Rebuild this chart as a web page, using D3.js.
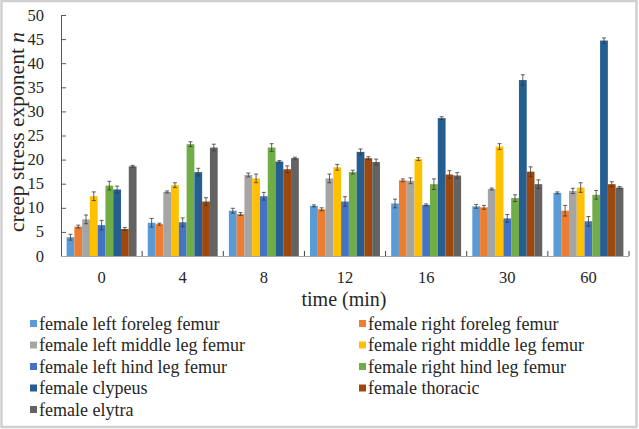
<!DOCTYPE html>
<html>
<head>
<meta charset="UTF-8">
<title>creep stress exponent</title>
<style>
  body { margin: 0; background: #fff; }
  text { font-family: "Liberation Serif", "DejaVu Serif", serif; fill: #262626; }
</style>
</head>
<body>
<svg id="chart" width="639" height="429"></svg>
<script src="https://d3js.org/d3.v7.min.js"></script>
<script>
// categories (time in minutes)
const times = ["0", "4", "8", "12", "16", "30", "60"];

const seriesNames = [
  "female left foreleg femur",
  "female right foreleg femur",
  "female left middle leg femur",
  "female right middle leg femur",
  "female left hind leg femur",
  "female right hind leg femur",
  "female clypeus",
  "female thoracic",
  "female elytra"
];

const seriesColors = ["#5b9bd5", "#ed7d31", "#a5a5a5", "#ffc000", "#4472c4",
                      "#70ad47", "#255e91", "#9e480e", "#636363"];

// mean values, one array per series (index = time)
const leftForeleg   = [3.9, 6.9, 9.4, 10.4, 10.9, 10.3, 13.1];
const rightForeleg  = [6.1, 6.6, 8.7, 9.7, 15.7, 10.1, 9.4];
const leftMiddle    = [7.6, 13.3, 16.8, 16.1, 15.6, 13.9, 13.5];
const rightMiddle   = [12.4, 14.7, 16.1, 18.4, 20.1, 22.7, 14.2];
const leftHind      = [6.4, 7.0, 12.4, 11.3, 10.6, 7.8, 7.2];
const rightHind     = [14.6, 23.2, 22.5, 17.4, 14.9, 12.0, 12.7];
const clypeus       = [13.8, 17.4, 19.6, 21.6, 28.6, 36.5, 44.7];
const thoracic      = [5.6, 11.3, 18.0, 20.3, 16.9, 17.5, 14.9];
const elytra        = [18.6, 22.5, 20.3, 19.5, 16.7, 14.9, 14.2];

// error bars (+/-)
const errLeftForeleg  = [0.6, 0.9, 0.5, 0.2, 0.9, 0.4, 0.2];
const errRightForeleg = [0.3, 0.2, 0.3, 0.3, 0.3, 0.4, 1.1];
const errLeftMiddle   = [0.9, 0.2, 0.4, 0.9, 0.6, 0.2, 0.55];
const errRightMiddle  = [0.9, 0.5, 0.9, 0.6, 0.3, 0.6, 1.0];
const errLeftHind     = [1.0, 0.9, 0.8, 1.0, 0.2, 0.8, 1.0];
const errRightHind    = [0.9, 0.5, 0.8, 0.4, 1.1, 0.7, 0.9];
const errClypeus      = [0.7, 0.8, 0.2, 0.6, 0.3, 1.1, 0.55];
const errThoracic     = [0.3, 0.8, 0.7, 0.3, 0.8, 1.0, 0.5];
const errElytra       = [0.2, 0.7, 0.2, 0.6, 0.6, 0.9, 0.2];

const yTicks = [0, 5, 10, 15, 20, 25, 30, 35, 40, 45, 50];

const values = [leftForeleg, rightForeleg, leftMiddle, rightMiddle, leftHind,
                rightHind, clypeus, thoracic, elytra];
const errors = [errLeftForeleg, errRightForeleg, errLeftMiddle, errRightMiddle,
                errLeftHind, errRightHind, errClypeus, errThoracic, errElytra];

const svg = d3.select("#chart");

// outer frame
svg.append("rect")
  .attr("x", 1.5).attr("y", 1)
  .attr("width", 635).attr("height", 426)
  .attr("fill", "none")
  .attr("stroke", "#cfcfcf")
  .attr("stroke-width", 2.5);

const plotLeft = 61, plotRight = 629, plotTop = 15, plotBottom = 256;

const x0 = d3.scaleBand().domain(times).range([plotLeft, plotRight]);
const x1 = d3.scaleBand().domain(d3.range(seriesNames.length))
  .range([0, x0.bandwidth()])
  .paddingOuter(0.72);
const y = d3.scaleLinear().domain([0, 50]).range([plotBottom, plotTop]);

// build table of bars
const bars = [];
times.forEach((t, i) => {
  values.forEach((arr, s) => {
    bars.push({ t: t, s: s, v: arr[i], e: errors[s][i] });
  });
});

const g = svg.append("g");

g.selectAll("rect.bar")
  .data(bars)
  .enter().append("rect")
  .attr("class", "bar")
  .attr("x", d => x0(d.t) + x1(d.s))
  .attr("y", d => y(d.v))
  .attr("width", x1.bandwidth())
  .attr("height", d => y(0) - y(d.v))
  .attr("fill", d => seriesColors[d.s]);

// error bars
const eb = g.selectAll("g.err")
  .data(bars)
  .enter().append("g")
  .attr("class", "err")
  .attr("stroke", "#3a3a3a")
  .attr("stroke-width", 0.8);

const cx = d => x0(d.t) + x1(d.s) + x1.bandwidth() / 2;

eb.append("line")
  .attr("x1", cx).attr("x2", cx)
  .attr("y1", d => y(d.v - d.e)).attr("y2", d => y(d.v + d.e));
eb.append("line")
  .attr("x1", d => cx(d) - 2).attr("x2", d => cx(d) + 2)
  .attr("y1", d => y(d.v + d.e)).attr("y2", d => y(d.v + d.e));
eb.append("line")
  .attr("x1", d => cx(d) - 2).attr("x2", d => cx(d) + 2)
  .attr("y1", d => y(d.v - d.e)).attr("y2", d => y(d.v - d.e));

// y axis (ticks pointing inside)
const yAxis = svg.append("g")
  .attr("transform", "translate(" + plotLeft + ",0)")
  .call(d3.axisRight(y).tickValues(yTicks).tickSize(5).tickFormat(""));
yAxis.select(".domain").attr("stroke", "#595959");
yAxis.selectAll(".tick line").attr("stroke", "#595959");

svg.append("g").selectAll("text")
  .data(yTicks)
  .enter().append("text")
  .attr("x", 44)
  .attr("y", d => y(d) + 5.5)
  .attr("text-anchor", "end")
  .style("font-size", "16.5px")
  .text(d => d);

// x axis
svg.append("line")
  .attr("x1", plotLeft).attr("x2", plotRight)
  .attr("y1", plotBottom + 0.5).attr("y2", plotBottom + 0.5)
  .attr("stroke", "#a6a6a6");

svg.append("g").selectAll("line")
  .data(times.slice(1).concat(["end"]))
  .enter().append("line")
  .attr("x1", d => d === "end" ? plotRight : x0(d))
  .attr("x2", d => d === "end" ? plotRight : x0(d))
  .attr("y1", plotBottom).attr("y2", plotBottom - 5)
  .attr("stroke", "#404040");

svg.append("g").selectAll("text")
  .data(times)
  .enter().append("text")
  .attr("x", d => x0(d) + x0.bandwidth() / 2)
  .attr("y", 283)
  .attr("text-anchor", "middle")
  .style("font-size", "16.5px")
  .text(d => d);

// axis titles
svg.append("text")
  .attr("x", 344).attr("y", 306)
  .attr("text-anchor", "middle")
  .style("font-size", "20px")
  .text("time (min)");

const yt = svg.append("text")
  .attr("transform", "translate(24,132) rotate(-90)")
  .attr("text-anchor", "middle")
  .style("font-size", "21.5px");
yt.append("tspan").text("creep stress exponent ");
yt.append("tspan").style("font-style", "italic").text("n");

// legend, two columns
const legend = svg.append("g").selectAll("g")
  .data(seriesNames)
  .enter().append("g")
  .attr("transform", (d, i) => "translate(" + (i % 2 === 0 ? 30 : 359) + "," + (324 + Math.floor(i / 2) * 21.5) + ")");

legend.append("rect")
  .attr("x", 0).attr("y", -4)
  .attr("width", 7).attr("height", 7)
  .attr("fill", (d, i) => seriesColors[i]);

legend.append("text")
  .attr("x", 9).attr("y", 5.5)
  .style("font-size", "18px")
  .text(d => d);
</script>
</body>
</html>
